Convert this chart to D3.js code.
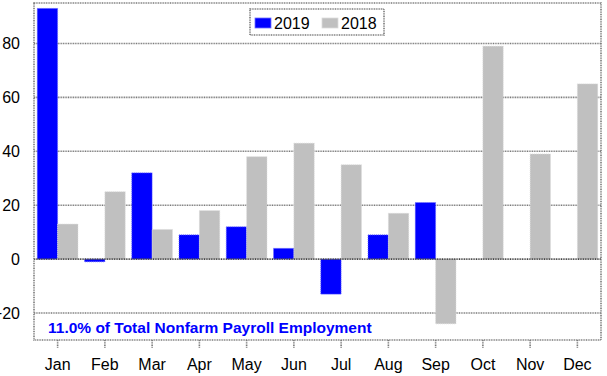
<!DOCTYPE html>
<html lang="en">
<head>
    <meta charset="UTF-8">
    <title>Monthly change</title>
</head>

<style>
body {
    margin: 0;
    background: #fff;
}

text {
    font-family: 'Liberation Sans', Arial, sans-serif;
}

.grid line {
    stroke: #7a7a7a;
    stroke-width: 1.6;
    stroke-dasharray: 1,0.7;
}

.frame {
    fill: none;
    stroke: #7a7a7a;
    stroke-width: 1.6;
    stroke-dasharray: 1,0.7;
}
</style>

<body>
<svg height="376" width="607"></svg>

<script src="https://d3js.org/d3.v7.min.js"></script>

<script>

    var months = ["Jan", "Feb", "Mar", "Apr", "May", "Jun", "Jul", "Aug", "Sep", "Oct", "Nov", "Dec"];
    var seriesNames = ["2019", "2018"];
    var values2019 = [93, -1, 32, 9, 12, 4, -13, 9, 21, null, null, null];
    var values2018 = [13, 25, 11, 18, 38, 43, 35, 17, -24, 79, 39, 65];
    var yTicks = [-20, 0, 20, 40, 60, 80];
    var note = "11.0% of Total Nonfarm Payroll Employment";

    var colors = {"2019": "#0000ff", "2018": "#c0c0c0"};
    var edges = {"2019": "#7070ff", "2018": "#dcdcdc"};

    var translate = function(left, top) {
        return "translate(" + left + "," + top + ")";
    };

    var svg = d3.select("svg");
    var plot = {left: 34, right: 601, top: 3, bottom: 340};

    var y = d3.scaleLinear().domain([-30, 95]).range([plot.bottom, plot.top]);
    var x = d3.scaleBand().domain(months).range([plot.left, plot.right]);
    var x1 = d3.scaleBand().domain(seriesNames).range([0, x.bandwidth()])
        .paddingInner(0).paddingOuter(0.16);

    // gridlines behind the bars
    svg.append("g")
        .attr("class", "grid")
        .selectAll("line")
        .data(yTicks.filter(function(t) { return t !== 0; }))
        .enter()
        .append("line")
        .attr("x1", plot.left)
        .attr("x2", plot.right)
        .attr("y1", function(d) { return y(d); })
        .attr("y2", function(d) { return y(d); });

    var rows = months.map(function(m, i) {
        return {month: m, "2019": values2019[i], "2018": values2018[i]};
    });

    var groups = svg.selectAll(".month")
        .data(rows)
        .enter()
        .append("g")
        .attr("class", "month")
        .attr("transform", function(d) { return translate(x(d.month), 0); });

    groups.selectAll("rect")
        .data(function(d) {
            return seriesNames
                .filter(function(s) { return d[s] !== null; })
                .map(function(s) { return {series: s, value: d[s]}; });
        })
        .enter()
        .append("rect")
        .attr("x", function(d) { return x1(d.series); })
        .attr("width", x1.bandwidth())
        .attr("y", function(d) { return y(Math.max(0, d.value)); })
        .attr("height", function(d) { return Math.abs(y(d.value) - y(0)); })
        .attr("fill", function(d) { return colors[d.series]; })
        .attr("stroke", function(d) { return edges[d.series]; })
        .attr("stroke-width", 0.8)
        .attr("stroke-dasharray", "1,1");

    // zero line on top of bars
    svg.append("line")
        .attr("x1", plot.left)
        .attr("x2", plot.right)
        .attr("y1", y(0))
        .attr("y2", y(0))
        .attr("stroke", "#444")
        .attr("stroke-width", 1.6)
        .attr("stroke-dasharray", "1,0.7");

    svg.append("rect")
        .attr("class", "frame")
        .attr("x", plot.left)
        .attr("y", plot.top)
        .attr("width", plot.right - plot.left)
        .attr("height", plot.bottom - plot.top);

    // y labels
    var yAxis = d3.axisLeft(y)
        .tickValues(yTicks)
        .tickSize(0)
        .tickPadding(14);

    svg.append("g")
        .attr("transform", translate(plot.left, 0))
        .call(yAxis)
        .call(function(g) { g.select(".domain").remove(); })
        .selectAll("text")
        .attr("font-family", "'Liberation Sans', Arial, sans-serif")
        .attr("font-size", 16)
        .attr("fill", "#000");

    // x axis
    var xAxis = d3.axisBottom(x)
        .tickSize(8)
        .tickPadding(11);

    var xg = svg.append("g")
        .attr("transform", translate(0, plot.bottom))
        .call(xAxis)
        .call(function(g) { g.select(".domain").remove(); });

    xg.selectAll("line")
        .attr("stroke", "#7a7a7a")
        .attr("stroke-width", 1.6)
        .attr("stroke-dasharray", "1,0.7");

    xg.selectAll("text")
        .attr("font-family", "'Liberation Sans', Arial, sans-serif")
        .attr("font-size", 16)
        .attr("fill", "#000");

    // note
    svg.append("text")
        .attr("x", 48)
        .attr("y", 333)
        .attr("font-size", 15.5)
        .attr("font-weight", "bold")
        .attr("fill", "#0000ff")
        .text(note);

    // legend
    var legend = svg.append("g").attr("transform", translate(250, 9));

    legend.append("rect")
        .attr("width", 134)
        .attr("height", 26)
        .attr("fill", "#fff")
        .attr("stroke", "#7a7a7a")
        .attr("stroke-width", 1.6)
        .attr("stroke-dasharray", "1,0.7");

    var legendItems = legend.selectAll(".item")
        .data(seriesNames)
        .enter()
        .append("g")
        .attr("class", "item")
        .attr("transform", function(d, i) { return translate(5 + i * 67, 0); });

    legendItems.append("rect")
        .attr("y", 9)
        .attr("width", 16)
        .attr("height", 10)
        .attr("fill", function(d) { return colors[d]; })
        .attr("stroke", function(d) { return edges[d]; })
        .attr("stroke-width", 0.8);

    legendItems.append("text")
        .attr("x", 19)
        .attr("y", 19.5)
        .attr("font-size", 16)
        .text(function(d) { return d; });

</script>
</body>
</html>
